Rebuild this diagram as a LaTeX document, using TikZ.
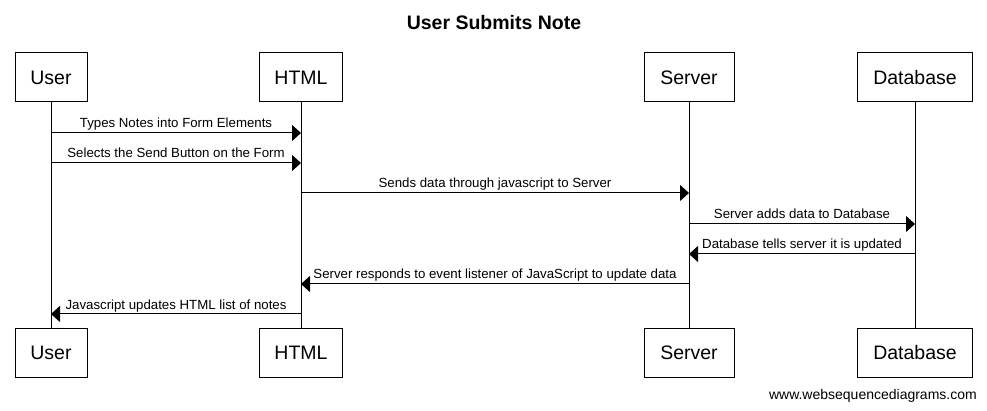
\documentclass[tikz,border=0pt]{standalone}
\usepackage{fontspec}
\setmainfont{Liberation Sans}
\usetikzlibrary{arrows.meta}
\usetikzlibrary{positioning}

\tikzset{
  actor/.style={draw, line width=1pt, minimum height=49pt, inner sep=0pt,
    font=\fontsize{19.5}{23}\selectfont},
  lifeline/.style={line width=1pt},
  msg/.style={line width=1pt, -{Triangle[length=9pt,width=16pt]}},
  msglabel/.style={above, inner sep=0pt, text depth=3pt, yshift=1.5pt,
    font=\fontsize{13.25}{15}\selectfont}
}

\begin{document}
\begin{tikzpicture}[x=1pt, y=-1pt]
\useasboundingbox (0,0) rectangle (987,411);

\node[anchor=base, inner sep=0pt, font=\bfseries\fontsize{19.5}{23}\selectfont] (title) at (494,30) {User Submits Note};

\node[actor, minimum width=72pt] (userT) at (51,77.5) {User};
\node[actor, minimum width=83pt] (htmlT) at (301,77.5) {HTML};
\node[actor, minimum width=90pt] (serverT) at (689,77.5) {Server};
\node[actor, minimum width=115pt] (dbT) at (915,77.5) {Database};

\node[actor, minimum width=72pt] (userB) at (51,352.5) {User};
\node[actor, minimum width=83pt] (htmlB) at (301,352.5) {HTML};
\node[actor, minimum width=90pt] (serverB) at (689,352.5) {Server};
\node[actor, minimum width=115pt] (dbB) at (915,352.5) {Database};

\draw[lifeline] (userT) -- (userB);
\draw[lifeline] (htmlT) -- (htmlB);
\draw[lifeline] (serverT) -- (serverB);
\draw[lifeline] (dbT) -- (dbB);

\coordinate (r1) at (0,133);
\coordinate (r2) at (0,163);
\coordinate (r3) at (0,193);
\coordinate (r4) at (0,224);
\coordinate (r5) at (0,254);
\coordinate (r6) at (0,284);
\coordinate (r7) at (0,314);

\draw[msg] (userT |- r1) -- (htmlT |- r1) node[msglabel, midway] {Types Notes into Form Elements};
\draw[msg] (userT |- r2) -- (htmlT |- r2) node[msglabel, midway] {Selects the Send Button on the Form};
\draw[msg] (htmlT |- r3) -- (serverT |- r3) node[msglabel, midway] {Sends data through javascript to Server};
\draw[msg] (serverT |- r4) -- (dbT |- r4) node[msglabel, midway] {Server adds data to Database};
\draw[msg] (dbT |- r5) -- (serverT |- r5) node[msglabel, midway] {Database tells server it is updated};
\draw[msg] (serverT |- r6) -- (htmlT |- r6) node[msglabel, midway] {Server responds to event listener of JavaScript to update data};
\draw[msg] (htmlT |- r7) -- (userT |- r7) node[msglabel, midway] {Javascript updates HTML list of notes};

\node[anchor=base east, inner sep=0pt, font=\fontsize{14}{16}\selectfont] (footer) at (977,399) {www.websequencediagrams.com};
\end{tikzpicture}
\end{document}
